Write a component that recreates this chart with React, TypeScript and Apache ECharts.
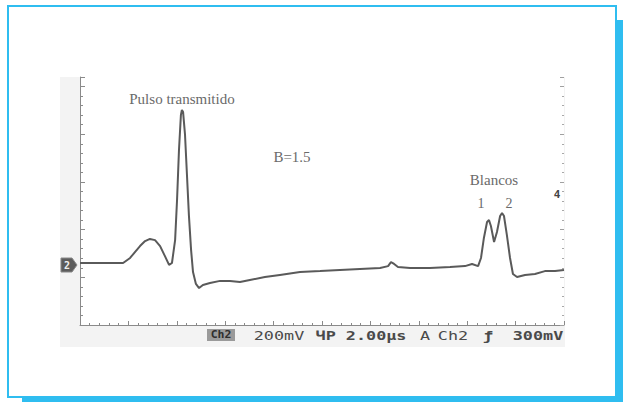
import React, { useEffect, useRef } from "react";
import * as echarts from "echarts";

// Trace sampled on the scope: time (µs) and voltage (mV above the bottom graticule line)
const timeUs = [
  0, 0.83, 1.78, 2.07, 2.27, 2.48, 2.69, 2.89, 3.1, 3.31, 3.51, 3.68, 3.8, 3.93, 4.01, 4.09,
  4.17, 4.21, 4.26, 4.34, 4.42, 4.5, 4.59, 4.67, 4.79, 4.92, 5.08, 5.37, 5.79, 6.2, 6.61,
  7.02, 7.64, 8.26, 9.09, 9.92, 10.74, 11.57, 12.4, 12.73, 12.85, 12.98, 13.14, 13.64,
  14.46, 15.29, 15.91, 16.2, 16.45, 16.57, 16.69, 16.82, 16.9, 16.98, 17.11, 17.23, 17.36,
  17.44, 17.52, 17.64, 17.77, 17.89, 18.06, 18.39, 18.8, 19.21, 19.63, 20,
];
const voltageMv = [
  260, 260, 260, 281, 306, 331, 352, 361, 356, 331, 289, 252, 260, 356, 524, 734,
  881, 902, 893, 797, 629, 461, 315, 222, 172, 155, 168, 176, 185, 185, 180,
  189, 201, 210, 222, 226, 231, 235, 239, 247, 264, 256, 243, 239,
  239, 243, 247, 256, 247, 281, 365, 432, 440, 415, 348, 390, 457,
  470, 457, 377, 281, 214, 201, 210, 214, 226, 226, 231,
];

// Scope readout along the bottom edge
const readoutItems = ["200mV", "ЧP 2.00µs", "A", "Ch2", "ƒ", "300mV"];
const readoutChannel = "Ch2";

const frameColor = "#2fbdf0";
const axisColor = "#8a8a8a";
const serifFont = "'Liberation Serif', 'DejaVu Serif', serif";
const monoFont = "'DejaVu Sans Mono', 'Liberation Mono', monospace";

export default function App() {
  const ref = useRef<HTMLDivElement>(null);

  useEffect(() => {
    if (!ref.current) return;
    const chart = echarts.init(ref.current, undefined, { renderer: "svg" });
    const data = timeUs.map((t, i) => [t, voltageMv[i]]);

    const annotation = (text: string, x: number, y: number, size: number) => ({
      type: "text",
      x,
      y,
      z: 20,
      style: {
        text,
        fill: "#6a6a6a",
        font: `normal ${size}px ${serifFont}`,
        textAlign: "center",
        textVerticalAlign: "middle",
      },
    });

    const readoutX = [279, 361, 425, 453, 488, 538];
    const readoutWeights = ["normal", "bold", "normal", "normal", "bold", "bold"];

    chart.setOption({
      animation: false,
      backgroundColor: "transparent",
      grid: {
        left: 80,
        right: 59,
        top: 77,
        bottom: 77,
        show: true,
        backgroundColor: "#ffffff",
        borderWidth: 0,
      },
      xAxis: {
        type: "value",
        min: 0,
        max: 20,
        interval: 2,
        axisLine: { show: true, lineStyle: { color: axisColor, width: 1 } },
        axisTick: { show: true, inside: true, length: 4, lineStyle: { color: axisColor } },
        minorTick: { show: true, splitNumber: 5, length: 2, lineStyle: { color: axisColor } },
        axisLabel: { show: false },
        splitLine: { show: false },
      },
      yAxis: [
        {
          type: "value",
          min: 0,
          max: 1040,
          interval: 200,
          position: "left",
          axisLine: { show: true, lineStyle: { color: axisColor, width: 1 } },
          axisTick: { show: true, inside: true, length: 5, lineStyle: { color: axisColor } },
          minorTick: { show: true, splitNumber: 5, length: 3, lineStyle: { color: axisColor } },
          axisLabel: { show: false },
          splitLine: { show: false },
        },
        {
          type: "value",
          min: 0,
          max: 1040,
          interval: 200,
          position: "right",
          axisLine: { show: false },
          axisTick: { show: true, inside: true, length: 4, lineStyle: { color: "#a0a0a0" } },
          minorTick: { show: true, splitNumber: 5, length: 2, lineStyle: { color: "#a8a8a8" } },
          axisLabel: { show: false },
          splitLine: { show: false },
        },
      ],
      series: [
        {
          type: "line",
          data,
          showSymbol: false,
          symbol: "none",
          lineStyle: { color: "#5a5a5a", width: 2 },
          z: 5,
        },
      ],
      graphic: [
        // frame shadow and card
        { type: "rect", z: -100, shape: { x: 22, y: 20, width: 601, height: 382 }, style: { fill: frameColor } },
        {
          type: "rect",
          z: -99,
          shape: { x: 8, y: 6, width: 608, height: 391 },
          style: { fill: "#ffffff", stroke: frameColor, lineWidth: 2 },
        },
        // scope panel backdrop
        { type: "rect", z: -98, shape: { x: 60, y: 77, width: 505, height: 270 }, style: { fill: "#f3f3f3" } },
        annotation("Pulso transmitido", 182, 99, 15),
        annotation("B=1.5", 292, 157, 15),
        annotation("Blancos", 494, 180, 15),
        annotation("1", 481, 203, 14),
        annotation("2", 509, 203, 14),
        {
          type: "text",
          x: 557,
          y: 194,
          z: 20,
          style: { text: "4", fill: "#444", font: `bold 11px ${monoFont}`, textAlign: "center", textVerticalAlign: "middle" },
        },
        // channel 2 ground marker
        {
          type: "polygon",
          z: 20,
          shape: { points: [[61, 258], [72, 258], [77, 265], [72, 272], [61, 272]] },
          style: { fill: "#5c5c5c", stroke: "#888", lineWidth: 1 },
        },
        {
          type: "text",
          x: 67,
          y: 265,
          z: 21,
          style: { text: "2", fill: "#f0f0f0", font: `bold 10px ${monoFont}`, textAlign: "center", textVerticalAlign: "middle" },
        },
        // highlighted channel tag in the readout
        { type: "rect", z: 20, shape: { x: 207, y: 329, width: 28, height: 12 }, style: { fill: "#9a9a9a" } },
        {
          type: "text",
          x: 221,
          y: 335,
          z: 21,
          scaleX: 1.15,
          style: { text: readoutChannel, fill: "#2e2e2e", font: `bold 10px ${monoFont}`, textAlign: "center", textVerticalAlign: "middle" },
        },
        ...readoutItems.map((text, i) => ({
          type: "text",
          x: readoutX[i],
          y: 335,
          z: 20,
          scaleX: 1.4,
          style: {
            text,
            fill: "#4a4a4a",
            font: `${readoutWeights[i]} 12px ${monoFont}`,
            textAlign: "center",
            textVerticalAlign: "middle",
          },
        })),
      ],
    });

    return () => chart.dispose();
  }, []);

  return (
    <div
      ref={ref}
      style={{ position: "fixed", left: 0, top: 0, width: 623, height: 402, background: "#ffffff" }}
    />
  );
}
